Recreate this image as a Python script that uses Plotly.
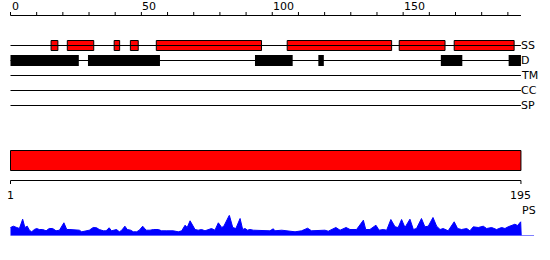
import plotly.graph_objects as go

# ---------------- data ----------------
seq_len = 195
scale_ticks = list(range(0, 191, 10))
scale_labels = [0, 50, 100, 150]

ss_start = [15.5, 21.7, 39.6, 45.8, 55.7, 105.7, 148.5, 169.5]
ss_end = [18.1, 31.8, 41.7, 48.8, 95.9, 145.6, 166.0, 192.4]

d_start = [0.0, 29.6, 93.4, 117.6, 164.4, 190.3]
d_end = [26.1, 57.1, 107.8, 119.7, 172.6, 195.0]

track_names = ["SS", "D", "TM", "CC", "SP"]

domain_start = [0]
domain_end = [195]
end_labels = ["1", "195"]

ps_pos = [0, 1.1, 2.4, 3.4, 4.65, 5.5, 6.4, 7.2, 8.1, 9.1, 10.0, 11.0, 12.3, 13.6, 14.8,
          16.1, 17.4, 18.7, 20.4, 21.5, 22.7, 24.6, 26.3, 27.2, 28.8, 30.1, 31.6, 32.9,
          33.9, 35.5, 36.5, 37.7, 38.6, 39.5, 40.5, 41.6, 42.5, 43.7, 44.6, 45.9, 46.9,
          48.2, 49.2, 50.5, 51.8, 53.3, 54.6, 56.5, 57.7, 59.7, 62.2, 64.1, 65.4, 66.7,
          67.5, 68.6, 69.6, 70.5, 71.7, 73.0, 74.3, 75.6, 76.8, 78.1, 79.4, 80.7, 81.5,
          83.6, 84.9, 86.1, 87.7, 88.7, 89.6, 90.5, 91.5, 92.8, 94.0, 95.3, 96.6, 97.8,
          99.1, 100.4, 101.0, 103.6, 106.1, 108.7, 111.2, 113.5, 115.0, 117.6, 120.1,
          121.4, 124.3, 125.9, 128.2, 129.7, 132.2, 134.8, 135.7, 137.3, 139.6, 140.8,
          142.4, 143.7, 145.3, 146.9, 148.1, 149.4, 150.7, 152.6, 153.9, 155.1, 157.0,
          158.3, 159.6, 161.4, 162.8, 164.1, 165.3, 167.2, 169.5, 170.8, 172.3, 174.3,
          175.5, 176.8, 178.7, 180.6, 181.9, 183.8, 185.7, 187.6, 188.9, 190.1, 191.7,
          192.7, 193.7, 194.9, 195.1]
ps_val = [8.0, 9.3, 8.0, 7.0, 16.3, 8.0, 9.3, 5.3, 3.7, 6.0, 7.0, 6.0, 6.0, 4.7, 7.0,
          7.0, 4.7, 5.3, 12.7, 6.0, 6.0, 6.0, 5.3, 3.7, 4.7, 5.3, 8.0, 7.7,
          6.0, 4.7, 4.7, 7.7, 4.7, 5.3, 6.0, 3.7, 5.3, 9.3, 6.0, 5.3, 3.7,
          3.7, 5.3, 9.3, 5.3, 5.3, 6.0, 6.0, 4.7, 4.7, 4.7, 3.7, 4.7, 10.3,
          8.0, 14.7, 9.3, 6.0, 5.3, 6.0, 4.7, 6.0, 7.0, 5.3, 12.7, 8.0, 9.3,
          20.3, 8.0, 7.0, 17.0, 6.0, 7.0, 5.3, 6.0, 5.3, 5.3, 4.7, 5.3, 4.7,
          4.7, 6.7, 4.7, 5.3, 4.7, 3.7, 4.7, 7.3, 4.7, 5.3, 5.3,
          4.3, 8.0, 5.3, 8.0, 6.0, 6.0, 15.3, 6.0, 6.0, 10.3, 5.3,
          6.0, 5.3, 16.0, 8.7, 8.0, 16.0, 8.0, 16.3, 6.0, 7.0, 17.0,
          8.7, 9.3, 18.0, 9.3, 6.0, 7.0, 4.7, 13.7, 7.0, 6.0, 7.0,
          4.7, 8.7, 8.0, 9.3, 7.0, 8.0, 6.0, 8.0, 7.0, 8.7, 10.3,
          11.3, 10.0, 13.7, 0.0]
ps_axis_end = 200

# ---------------- layout constants (pixel rows) ----------------
FONT = dict(family="DejaVu Sans", size=11, color="#000000")
Y_SCALE = 15.5
TRACK_Y = [45.5, 60.5, 75.5, 90.5, 105.5]
DOM_Y = 160.5
BOT_AXIS_Y = 180.5

fig = go.Figure()

# top scale line and ticks
tx, ty = [0, seq_len], [Y_SCALE, Y_SCALE]
for t in scale_ticks:
    tx += [None, t, t]
    ty += [None, Y_SCALE, Y_SCALE - 3.5]
fig.add_trace(go.Scatter(x=tx, y=ty, mode="lines", line=dict(color="black", width=1),
                         hoverinfo="skip"))

# track lines
for yv in TRACK_Y:
    fig.add_trace(go.Scatter(x=[0, seq_len], y=[yv, yv], mode="lines",
                             line=dict(color="black", width=1), hoverinfo="skip"))

# SS boxes
fig.add_trace(go.Bar(orientation="h", y=[TRACK_Y[0]] * len(ss_start),
                     x=[e - s for s, e in zip(ss_start, ss_end)], base=ss_start,
                     width=10, marker=dict(color="#ff0000", line=dict(color="black", width=1))))
# D boxes
fig.add_trace(go.Bar(orientation="h", y=[TRACK_Y[1]] * len(d_start),
                     x=[e - s for s, e in zip(d_start, d_end)], base=d_start,
                     width=11, marker=dict(color="black", line=dict(width=0))))
# domain bar
fig.add_trace(go.Bar(orientation="h", y=[DOM_Y] * len(domain_start),
                     x=[e - s for s, e in zip(domain_start, domain_end)], base=domain_start,
                     width=20, marker=dict(color="#ff0000", line=dict(color="black", width=1))))

# bottom axis
fig.add_trace(go.Scatter(x=[0, 0, seq_len, seq_len],
                         y=[BOT_AXIS_Y + 3.5, BOT_AXIS_Y, BOT_AXIS_Y, BOT_AXIS_Y + 3.5],
                         mode="lines", line=dict(color="black", width=1), hoverinfo="skip"))

# PS profile
fig.add_trace(go.Scatter(x=ps_pos, y=ps_val, mode="lines", fill="tozeroy",
                         fillcolor="#0000ff", line=dict(color="#0000ff", width=1),
                         yaxis="y2", hoverinfo="skip"))
fig.add_trace(go.Scatter(x=[0, ps_axis_end], y=[0, 0], mode="lines",
                         line=dict(color="#0000ff", width=1), yaxis="y2", hoverinfo="skip"))

ann = []
for lab in scale_labels:
    ann.append(dict(x=lab, y=6.5, text=str(lab), xanchor="left", yanchor="middle",
                    showarrow=False, font=FONT, xshift=-1))
for name, yv in zip(track_names, TRACK_Y):
    ann.append(dict(x=seq_len, y=yv, text=name, xanchor="left", yanchor="middle",
                    showarrow=False, font=FONT, xshift=-2))
ann.append(dict(x=0, y=195, text=end_labels[0], xanchor="center", yanchor="middle",
                showarrow=False, font=FONT))
ann.append(dict(x=seq_len, y=195, text=end_labels[1], xanchor="center", yanchor="middle",
                showarrow=False, font=FONT))
ann.append(dict(x=seq_len, y=210.5, text="PS", xanchor="left", yanchor="middle",
                showarrow=False, font=FONT, xshift=-1))

H = 260
fig.update_layout(
    width=550, height=H, margin=dict(l=0, r=0, t=0, b=0),
    paper_bgcolor="white", plot_bgcolor="white", showlegend=False,
    barmode="overlay",
    xaxis=dict(range=[-4.01, 206.1], visible=False, fixedrange=True),
    yaxis=dict(range=[H, 0], visible=False, domain=[0, 1]),
    annotations=ann,
)
# place profile band: baseline at pixel row 235.5, top at 215.2
base_frac = (H - 235.5) / H
top_frac = (H - 215.2) / H
fig.update_layout(yaxis2=dict(range=[0, 20.3], visible=False, anchor="x",
                              domain=[base_frac, top_frac]))

fig.write_html("out.html")
